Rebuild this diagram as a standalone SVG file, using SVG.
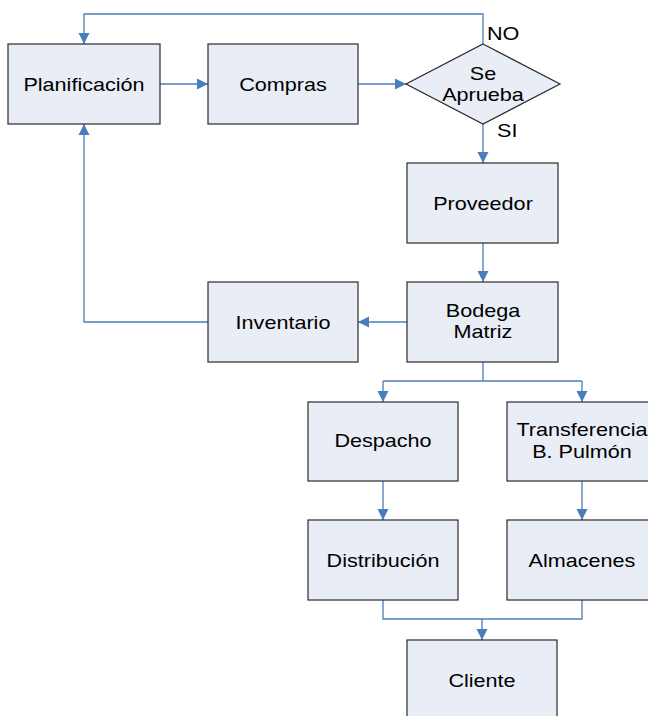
<svg xmlns="http://www.w3.org/2000/svg" width="648" height="716" viewBox="0 0 648 716">
<defs>
<marker id="ah" markerUnits="userSpaceOnUse" markerWidth="12" markerHeight="12" refX="11" refY="5.5" orient="auto" viewBox="0 0 12 11">
<path d="M0,0 L11,5.5 L0,11 z" fill="#4a7ebb"/>
</marker>
<style>
.box{fill:#e9edf6;stroke:#2b2b2b;stroke-width:1.2}
.c{fill:none;stroke:#4a7ebb;stroke-width:1.3}
.a{marker-end:url(#ah)}
text{font-family:"Liberation Sans",Arial,sans-serif;font-size:18px;fill:#000}
.m{text-anchor:middle}
</style>
</defs>
<rect width="648" height="716" fill="#fff"/>
<g id="connectors">
<path class="c a" d="M160,84 H208"/>
<path class="c a" d="M358,84 H406"/>
<path class="c a" d="M483,44 V14 H84 V44"/>
<path class="c a" d="M483,124 V163"/>
<path class="c a" d="M483,243 V282"/>
<path class="c a" d="M407,322 H358"/>
<path class="c a" d="M208,322 H84 V124"/>
<path class="c" d="M483,362 V381 M383,381 H582"/>
<path class="c a" d="M383,381 V402"/>
<path class="c a" d="M582,381 V402"/>
<path class="c a" d="M383,481 V520"/>
<path class="c a" d="M582,481 V520"/>
<path class="c" d="M383,600 V619 H582 V600"/>
<path class="c a" d="M482,619 V640"/>
<text transform="translate(487,40) scale(1.2,1)">NO</text>
<text transform="translate(497,137) scale(1.2,1)">SI</text>
</g>
<g id="planificacion"><rect class="box" x="8" y="44" width="152" height="80"/><text class="m" transform="translate(84,90.5) scale(1.2,1)">Planificación</text></g>
<g id="compras"><rect class="box" x="208" y="44" width="150" height="80"/><text class="m" transform="translate(283,90.5) scale(1.2,1)">Compras</text></g>
<g id="se-aprueba"><polygon class="box" points="483,44 560,84 483,124 406,84"/><text class="m" transform="translate(483,80) scale(1.2,1)">Se</text><text class="m" transform="translate(483,101) scale(1.2,1)">Aprueba</text></g>
<g id="proveedor"><rect class="box" x="407" y="163" width="151" height="80"/><text class="m" transform="translate(483,209.5) scale(1.2,1)">Proveedor</text></g>
<g id="bodega-matriz"><rect class="box" x="407" y="282" width="151" height="80"/><text class="m" transform="translate(483,317) scale(1.2,1)">Bodega</text><text class="m" transform="translate(483,338) scale(1.2,1)">Matriz</text></g>
<g id="inventario"><rect class="box" x="208" y="282" width="150" height="80"/><text class="m" transform="translate(283,328.5) scale(1.2,1)">Inventario</text></g>
<g id="despacho"><rect class="box" x="308" y="402" width="150" height="79"/><text class="m" transform="translate(383,447) scale(1.2,1)">Despacho</text></g>
<g id="transferencia"><rect class="box" x="507" y="402" width="150" height="79"/><text class="m" transform="translate(582,436) scale(1.2,1)">Transferencia</text><text class="m" transform="translate(582,458) scale(1.2,1)">B. Pulmón</text></g>
<g id="distribucion"><rect class="box" x="308" y="520" width="150" height="80"/><text class="m" transform="translate(383,566.5) scale(1.2,1)">Distribución</text></g>
<g id="almacenes"><rect class="box" x="507" y="520" width="150" height="80"/><text class="m" transform="translate(582,566.5) scale(1.2,1)">Almacenes</text></g>
<g id="cliente"><rect class="box" x="407" y="640" width="150" height="80"/><text class="m" transform="translate(482,687) scale(1.2,1)">Cliente</text></g>
</svg>
